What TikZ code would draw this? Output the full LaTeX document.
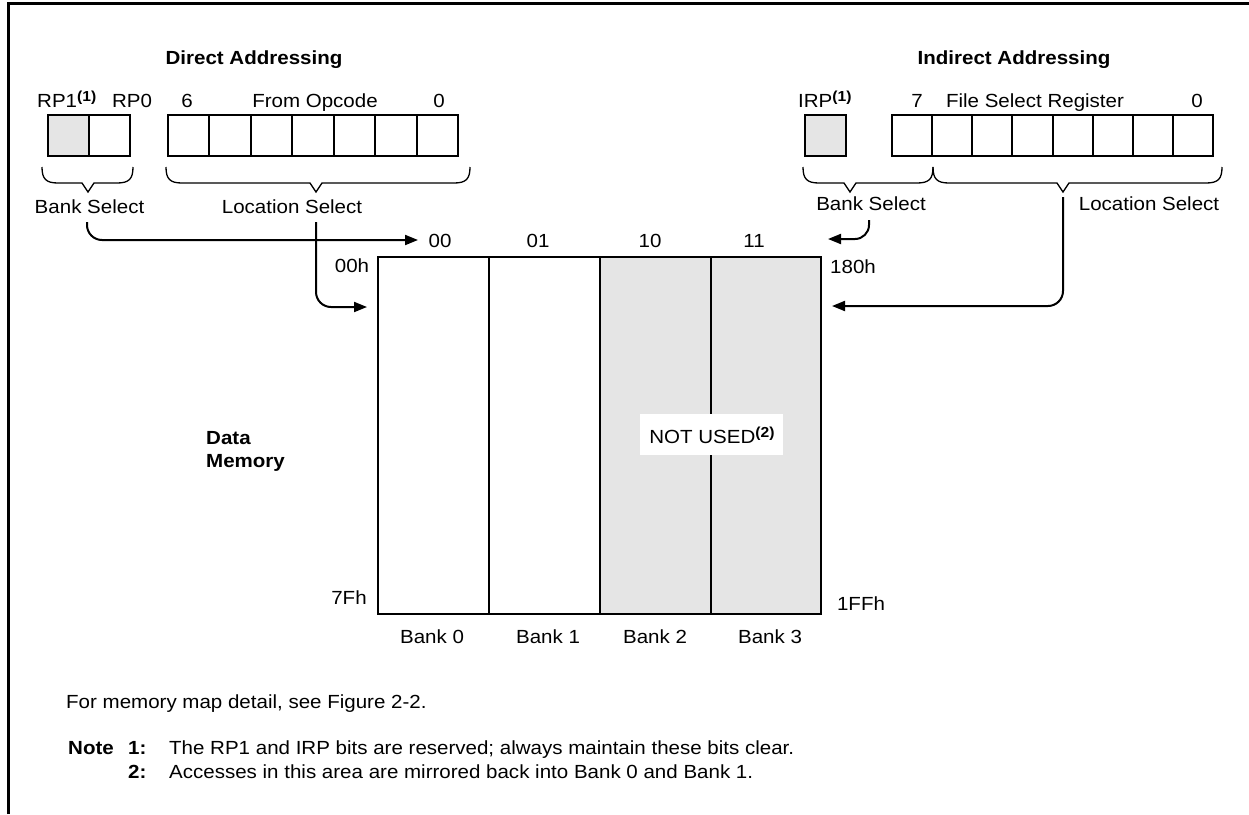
\documentclass[tikz,border=0pt]{standalone}
\usepackage{fontspec}
\setmainfont{Liberation Sans}[FakeStretch=1.08]
\usetikzlibrary{arrows.meta}
\definecolor{memgray}{HTML}{E5E5E5}
\newcommand{\regbrace}[3]{%
  \draw[bracepath] (#1,167) .. controls (#1,179) and (#1+4,183) .. (#1+16,183)
    -- (#3-6,183) -- (#3,192) -- (#3+6,183) -- (#2-16,183)
    .. controls (#2-4,183) and (#2,179) .. (#2,167);}
\newcommand{\supone}[1]{\raisebox{5.5pt}{\fontsize{14.5}{14.5}\selectfont\bfseries(#1)}}
\begin{document}
\begin{tikzpicture}[x=1pt,y=-1pt,
  every node/.style={inner sep=0pt, font=\fontsize{19}{23}\selectfont},
  lbl/.style={anchor=base},
  lblw/.style={anchor=base west},
  boldlbl/.style={anchor=base, font=\fontsize{19}{23}\selectfont\bfseries},
  boldw/.style={anchor=base west, font=\fontsize{19}{23}\selectfont\bfseries},
  cellline/.style={line width=2pt},
  framel/.style={line width=3pt},
  conn/.style={line width=2pt, rounded corners=15pt, -{Triangle[length=13pt,width=10pt]}},
  bracepath/.style={line width=1.3pt}]
\useasboundingbox (0,0) rectangle (1249,814);
% frame
\draw[framel] (8,814) -- (8,3.5) -- (1249,3.5);

% titles
\node[boldlbl] (tdir) at (254,64) {Direct Addressing};
\node[boldlbl] (tind) at (1014,64) {Indirect Addressing};

% direct registers
\fill[memgray] (48,115) rectangle (89,156);
\draw[cellline] (48,115) rectangle (130,156);
\draw[cellline] (89,115) -- (89,156);
\draw[cellline] (168,115) rectangle (458,156);
\foreach \i in {1,...,6} \draw[cellline] ({168+\i*41.43},115) -- ({168+\i*41.43},156);
\node[lblw] (rp1) at (37,107) {RP1\supone{1}};
\node[lbl] (rp0) at (132,107) {RP0};
\node[lbl] (b6) at (187,107) {6};
\node[lbl] (fop) at (315,107) {From Opcode};
\node[lbl] (b0d) at (439,107) {0};

% indirect registers
\fill[memgray] (805,115) rectangle (846,156);
\draw[cellline] (805,115) rectangle (846,156);
\draw[cellline] (892,115) rectangle (1213,156);
\foreach \i in {1,...,7} \draw[cellline] ({892+\i*40.125},115) -- ({892+\i*40.125},156);
\node[lblw] (irp) at (798,107) {IRP\supone{1}};
\node[lbl] (b7) at (917,107) {7};
\node[lbl] (fsr) at (1035,107) {File Select Register};
\node[lbl] (b0i) at (1197,107) {0};

% braces
\regbrace{42}{133}{88}
\regbrace{166}{470}{316}
\regbrace{803}{933}{850}
\regbrace{933}{1222}{1063}

\node[lbl] (bsd) at (89.5,213) {Bank Select};
\node[lbl] (lsd) at (292,213) {Location Select};
\node[lbl] (bsi) at (871,210) {Bank Select};
\node[lbl] (lsi) at (1149,210) {Location Select};

% data memory
\fill[memgray] (600,257) rectangle (821,614);
\draw[cellline] (378,257) rectangle (821,614);
\foreach \x in {489,600,711} \draw[cellline] (\x,257) -- (\x,614);
\node[lbl] (c00) at (440,247) {00};
\node[lbl] (c01) at (538,247) {01};
\node[lbl] (c10) at (650,247) {10};
\node[lbl] (c11) at (754,247) {11};
\node[lbl] (a00) at (352,272) {00h};
\node[lbl] (a7f) at (349,604) {7Fh};
\node[lbl] (a180) at (853,273) {180h};
\node[lbl] (a1ff) at (861,610) {1FFh};
\node[lbl] (bk0) at (432,643) {Bank 0};
\node[lbl] (bk1) at (548,643) {Bank 1};
\node[lbl] (bk2) at (655,643) {Bank 2};
\node[lbl] (bk3) at (770,643) {Bank 3};
\node[fill=white, minimum width=143pt, minimum height=41pt] (nubox) at (711.5,434.5) {};
\node[lbl] (nu) at (712,443) {NOT USED\supone{2}};
\node[boldw] (dm1) at (206,444) {Data};
\node[boldw] (dm2) at (206,467) {Memory};

% connectors
\coordinate (bsdS) at (87,222);
\coordinate (c00W) at (418,240);
\coordinate (lsdS) at (316,222);
\coordinate (memL) at (367,307);
\coordinate (bsiS) at (869,220);
\coordinate (c11E) at (828,239);
\coordinate (lsiS) at (1063,197);
\coordinate (memR) at (832,306);
\draw[conn] (bsdS) |- (c00W);
\draw[conn] (lsdS) |- (memL);
\draw[conn, rounded corners=14pt] (bsiS) |- (c11E);
\draw[conn] (lsiS) |- (memR);

% footer
\node[lblw] (fm) at (66,708) {For memory map detail, see Figure 2-2.};
\node[boldw] (nt) at (68,754) {Note};
\node[boldw] (n1) at (128,754) {1:};
\node[lblw] (n1t) at (169,754) {The RP1 and IRP bits are reserved; always maintain these bits clear.};
\node[boldw] (n2) at (128,778) {2:};
\node[lblw] (n2t) at (169,778) {Accesses in this area are mirrored back into Bank 0 and Bank 1.};
\end{tikzpicture}
\end{document}
